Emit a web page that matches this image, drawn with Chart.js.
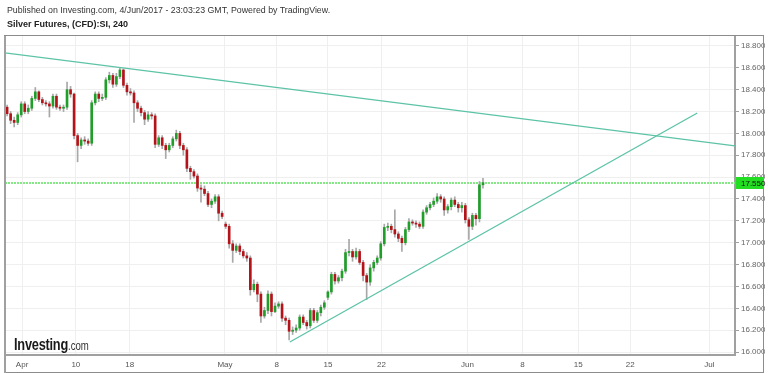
<!DOCTYPE html>
<html>
<head>
<meta charset="utf-8">
<script src="https://cdn.jsdelivr.net/npm/chart.js@4.4.0/dist/chart.umd.min.js"></script>
<style>
    html, body { margin: 0; padding: 0; background: #fff; }
    #wrap { position: relative; width: 768px; height: 373px; font-family: 'Liberation Sans', Arial, sans-serif; }
    #pub { position: absolute; left: 7px; top: 5px; font-size: 8.8px; color: #333; white-space: nowrap; }
    #ttl { position: absolute; left: 7px; top: 19px; font-size: 9px; font-weight: bold; color: #222; white-space: nowrap; }
    #logo { position: absolute; left: 14px; top: 336px; transform-origin: left top; transform: scaleX(0.8); white-space: nowrap; color: #1a1a1a; }
    #logo b { font-size: 16px; letter-spacing: -0.3px; }
    #logo span { font-size: 12px; color: #333; }
</style>
</head>
<body>
<div id="wrap">
    <canvas id="chart" width="768" height="373"></canvas>
    <div id="pub">Published on Investing.com, 4/Jun/2017 - 23:03:23 GMT, Powered by TradingView.</div>
    <div id="ttl">Silver Futures, (CFD):SI, 240</div>
    <div id="logo"><b>Investing</b><span>.com</span></div>
</div>
<script>
// Silver 8h-ish candles, 31 Mar - 2 Jun 2017 (x = candle index)
const openP = [
    18.24, 18.18, 18.12, 18.10, 18.17, 18.27, 18.20, 18.23, 18.32, 18.38,
    18.31, 18.28, 18.27, 18.25, 18.34, 18.24, 18.23, 18.24, 18.40, 18.36,
    17.98, 17.89, 17.94, 17.93, 17.91, 18.28, 18.36, 18.32, 18.33, 18.49,
    18.53, 18.45, 18.52, 18.58, 18.44, 18.38, 18.37, 18.28, 18.23, 18.19,
    18.13, 18.17, 18.16, 17.90, 17.96, 17.89, 17.85, 17.89, 17.95, 18.00,
    17.89, 17.85, 17.68, 17.65, 17.61, 17.50, 17.49, 17.45, 17.35, 17.38,
    17.42, 17.27, 17.17, 17.15, 16.99, 16.93, 16.97, 16.92, 16.88, 16.86,
    16.57, 16.62, 16.53, 16.33, 16.38, 16.53, 16.37, 16.42, 16.44, 16.31,
    16.29, 16.19, 16.20, 16.22, 16.32, 16.27, 16.24, 16.38, 16.29, 16.36,
    16.41, 16.50, 16.55, 16.71, 16.65, 16.68, 16.74, 16.91, 16.92, 16.87,
    16.92, 16.82, 16.70, 16.64, 16.77, 16.82, 16.86, 16.99, 17.14, 17.15,
    17.12, 17.08, 17.04, 17.00, 17.12, 17.19, 17.18, 17.17, 17.15, 17.28,
    17.32, 17.35, 17.38, 17.42, 17.40, 17.30, 17.33, 17.39, 17.35, 17.32,
    17.34, 17.21, 17.15, 17.25, 17.22, 17.53
];
const highP = [
    18.26, 18.20, 18.15, 18.19, 18.29, 18.29, 18.26, 18.34, 18.42, 18.39,
    18.33, 18.30, 18.29, 18.36, 18.36, 18.26, 18.26, 18.47, 18.43, 18.37,
    18.00, 17.96, 17.97, 17.95, 18.30, 18.38, 18.38, 18.36, 18.51, 18.56,
    18.55, 18.55, 18.60, 18.59, 18.46, 18.41, 18.39, 18.30, 18.25, 18.21,
    18.20, 18.19, 18.18, 17.98, 17.98, 17.91, 17.91, 17.97, 18.03, 18.02,
    17.91, 17.87, 17.70, 17.67, 17.63, 17.53, 17.52, 17.47, 17.40, 17.44,
    17.44, 17.29, 17.19, 17.17, 17.02, 16.99, 16.99, 16.94, 16.91, 16.88,
    16.66, 16.64, 16.55, 16.41, 16.56, 16.55, 16.45, 16.46, 16.46, 16.33,
    16.31, 16.23, 16.25, 16.34, 16.34, 16.29, 16.40, 16.40, 16.38, 16.43,
    16.47, 16.56, 16.73, 16.73, 16.70, 16.76, 16.94, 17.03, 16.94, 16.95,
    16.94, 16.84, 16.72, 16.80, 16.84, 16.88, 17.01, 17.17, 17.18, 17.17,
    17.30, 17.10, 17.06, 17.14, 17.22, 17.21, 17.20, 17.19, 17.30, 17.34,
    17.37, 17.41, 17.45, 17.44, 17.42, 17.35, 17.41, 17.42, 17.37, 17.37,
    17.36, 17.23, 17.27, 17.27, 17.56, 17.59
];
const lowP = [
    18.16, 18.09, 18.06, 18.08, 18.15, 18.18, 18.18, 18.21, 18.30, 18.29,
    18.26, 18.25, 18.15, 18.23, 18.22, 18.21, 18.20, 18.22, 18.33, 17.95,
    17.74, 17.86, 17.90, 17.89, 17.89, 18.26, 18.29, 18.30, 18.31, 18.46,
    18.42, 18.43, 18.50, 18.42, 18.35, 18.35, 18.10, 18.20, 18.16, 18.08,
    18.11, 18.13, 17.87, 17.88, 17.86, 17.77, 17.83, 17.87, 17.93, 17.86,
    17.80, 17.65, 17.58, 17.59, 17.47, 17.37, 17.43, 17.33, 17.32, 17.36,
    17.20, 17.22, 17.13, 16.95, 16.82, 16.91, 16.89, 16.86, 16.83, 16.52,
    16.55, 16.46, 16.27, 16.31, 16.35, 16.33, 16.36, 16.40, 16.28, 16.25,
    16.11, 16.16, 16.18, 16.20, 16.25, 16.21, 16.22, 16.27, 16.27, 16.33,
    16.39, 16.48, 16.53, 16.62, 16.63, 16.65, 16.72, 16.88, 16.83, 16.85,
    16.80, 16.65, 16.48, 16.61, 16.74, 16.80, 16.84, 16.97, 17.11, 17.09,
    17.05, 17.01, 16.92, 16.98, 17.10, 17.16, 17.14, 17.13, 17.13, 17.26,
    17.30, 17.33, 17.36, 17.37, 17.25, 17.27, 17.30, 17.33, 17.28, 17.28,
    17.18, 17.03, 17.12, 17.16, 17.19, 17.50
];
const closeP = [
    18.18, 18.12, 18.10, 18.17, 18.27, 18.20, 18.23, 18.32, 18.38, 18.31,
    18.28, 18.27, 18.25, 18.34, 18.24, 18.23, 18.24, 18.40, 18.36, 17.98,
    17.89, 17.94, 17.93, 17.91, 18.28, 18.36, 18.32, 18.33, 18.49, 18.53,
    18.45, 18.52, 18.58, 18.44, 18.38, 18.37, 18.28, 18.23, 18.19, 18.13,
    18.17, 18.16, 17.90, 17.96, 17.89, 17.85, 17.89, 17.95, 18.00, 17.89,
    17.85, 17.68, 17.65, 17.61, 17.50, 17.49, 17.45, 17.35, 17.38, 17.42,
    17.27, 17.24, 17.15, 16.99, 16.93, 16.97, 16.92, 16.88, 16.86, 16.57,
    16.62, 16.53, 16.33, 16.38, 16.53, 16.37, 16.42, 16.44, 16.31, 16.29,
    16.19, 16.20, 16.22, 16.32, 16.27, 16.24, 16.38, 16.29, 16.36, 16.41,
    16.45, 16.55, 16.71, 16.65, 16.68, 16.74, 16.91, 16.92, 16.87, 16.92,
    16.82, 16.70, 16.64, 16.77, 16.82, 16.86, 16.99, 17.14, 17.15, 17.12,
    17.08, 17.04, 17.00, 17.12, 17.19, 17.18, 17.17, 17.15, 17.28, 17.32,
    17.35, 17.38, 17.42, 17.40, 17.30, 17.33, 17.39, 17.35, 17.32, 17.34,
    17.21, 17.15, 17.25, 17.22, 17.53, 17.55
];

// Axis ticks
const xTickPos = [4.25, 19.5, 34.8, 61.8, 76.5, 91, 106.2, 130.6, 146.2, 162, 176.8, 199.2];
const xTickLabels = ['Apr', '10', '18', 'May', '8', '15', '22', 'Jun', '8', '15', '22', 'Jul'];
const yTickValues = [16.0, 16.2, 16.4, 16.6, 16.8, 17.0, 17.2, 17.4, 17.6, 17.8, 18.0, 18.2, 18.4, 18.6, 18.8];

// Trend lines drawn on the chart
const trendDownX = [-0.6, 206.5];
const trendDownY = [18.736, 17.885];
const trendUpX = [80.2, 195.8];
const trendUpY = [16.092, 18.187];

const lastPrice = 17.55;
const xMin = -0.6;
const xMax = 206.5;

const colors = {
    up: '#1f9e2a',
    down: '#b3141a',
    wick: '#a8a8a8',
    trend: '#5cc3a6',
    last: '#22dd22',
    lastLine: '#84e884',
    grid: '#efefef',
    axis: '#a0a0a0',
    text: '#666'
};

const bodies = openP.map((o, i) => ({ x: i, y: [o, closeP[i]] }));
const wicks = lowP.map((l, i) => ({ x: i, y: [l, highP[i]] }));
const bodyColors = openP.map((o, i) => closeP[i] >= o ? colors.up : colors.down);

// Last-price dotted line, drawn under the candles
const lastLinePlugin = {
    id: 'lastLine',
    beforeDatasetsDraw(chart) {
        const c = chart.ctx;
        const a = chart.chartArea;
        const y = Math.round(chart.scales.y.getPixelForValue(lastPrice));
        c.save();
        c.strokeStyle = colors.lastLine;
        c.lineWidth = 2;
        c.setLineDash([2, 1]);
        c.beginPath();
        c.moveTo(a.left, y);
        c.lineTo(a.right, y);
        c.stroke();
        c.restore();
    }
};

// Frame, left border and last-price tag
const framePlugin = {
    id: 'frame',
    beforeDraw(chart) {
        const c = chart.ctx;
        c.save();
        c.fillStyle = '#fff';
        c.fillRect(0, 0, chart.width, chart.height);
        c.restore();
    },
    afterDraw(chart) {
        const c = chart.ctx;
        const a = chart.chartArea;
        c.save();
        c.strokeStyle = '#8c8c8c';
        c.lineWidth = 1;
        c.strokeRect(4.5, 35.5, 759, 337);
        c.strokeStyle = colors.axis;
        c.lineWidth = 2;
        c.beginPath();
        c.moveTo(a.left, a.top);
        c.lineTo(a.left, chart.height);
        c.stroke();

        const y = chart.scales.y.getPixelForValue(lastPrice);
        c.fillStyle = colors.last;
        c.fillRect(a.right + 1, Math.round(y) - 6, 28, 12);
        c.fillStyle = '#111';
        c.font = '8px "Liberation Sans", Arial, sans-serif';
        c.textBaseline = 'middle';
        c.fillText(lastPrice.toFixed(3), a.right + 6, Math.round(y) + 0.5);
        c.restore();
    }
};

const ctx = document.getElementById('chart');
new Chart(ctx, {
    type: 'bar',
    data: {
        datasets: [{
            type: 'line',
            data: trendDownX.map((x, i) => ({ x, y: trendDownY[i] })),
            borderColor: colors.trend,
            borderWidth: 1.3,
            pointRadius: 0,
            order: 0
        }, {
            type: 'line',
            data: trendUpX.map((x, i) => ({ x, y: trendUpY[i] })),
            borderColor: colors.trend,
            borderWidth: 1.3,
            pointRadius: 0,
            order: 0
        }, {
            data: bodies,
            backgroundColor: bodyColors,
            barThickness: 2,
            minBarLength: 1,
            grouped: false,
            order: 1
        }, {
            data: wicks,
            backgroundColor: colors.wick,
            barThickness: 1,
            grouped: false,
            order: 2
        }]
    },
    options: {
        responsive: false,
        animation: false,
        layout: {
            padding: { left: 5, top: 36, right: 3, bottom: 1 }
        },
        plugins: {
            legend: { display: false },
            tooltip: { enabled: false }
        },
        scales: {
            x: {
                type: 'linear',
                min: xMin,
                max: xMax,
                offset: false,
                grid: { offset: false, color: colors.grid, drawTicks: false },
                border: { color: colors.axis, width: 2 },
                ticks: {
                    autoSkip: false,
                    maxRotation: 0,
                    padding: 5,
                    color: '#555',
                    font: { family: 'Liberation Sans', size: 8 },
                    callback: (value, index) => xTickLabels[index]
                },
                afterBuildTicks: (scale) => {
                    scale.ticks = xTickPos.map(v => ({ value: v }));
                },
                afterFit: (scale) => { scale.height = 17; }
            },
            y: {
                position: 'right',
                min: 15.973,
                max: 18.891,
                grid: { color: colors.grid, tickColor: colors.axis, tickLength: 4 },
                border: { color: colors.axis, width: 2 },
                ticks: {
                    padding: 2,
                    color: colors.text,
                    font: { family: 'Liberation Sans', size: 8 },
                    callback: (value) => Number(value).toFixed(3)
                },
                afterBuildTicks: (scale) => {
                    scale.ticks = yTickValues.map(v => ({ value: v }));
                },
                afterFit: (scale) => { scale.width = 30; }
            }
        }
    },
    plugins: [lastLinePlugin, framePlugin]
});
</script>
</body>
</html>
